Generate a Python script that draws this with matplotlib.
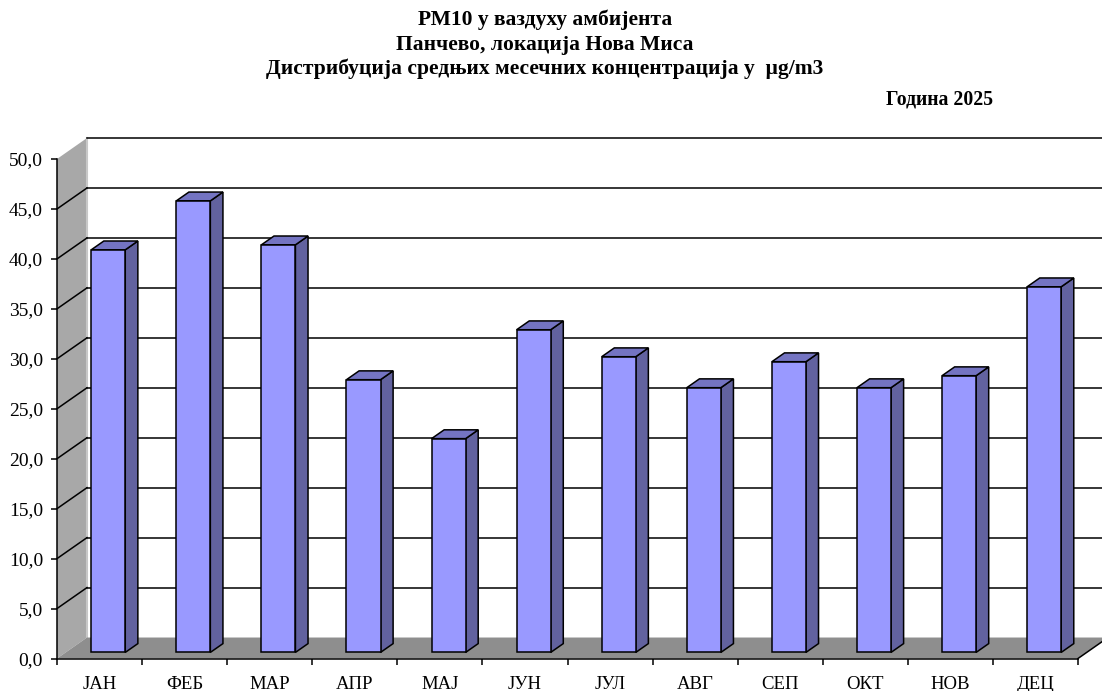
import matplotlib
matplotlib.use("Agg")
import matplotlib.pyplot as plt
from matplotlib.patches import Polygon
from matplotlib.ticker import FuncFormatter

# Средње месечне концентрације PM10, Нова Миса 2025
months = ["ЈАН", "ФЕБ", "МАР", "АПР", "МАЈ", "ЈУН",
          "ЈУЛ", "АВГ", "СЕП", "ОКТ", "НОВ", "ДЕЦ"]
pm10 = [40.3, 45.2, 40.8, 27.3, 21.4, 32.3, 29.6, 26.5, 29.1, 26.5, 27.7, 36.6]
y_ticks = [0, 5, 10, 15, 20, 25, 30, 35, 40, 45, 50]

title_lines = ["РМ10 у ваздуху амбијента",
               "Панчево, локација Нова Миса",
               "Дистрибуција средњих месечних концентрација у  µg/m3"]
year_label = "Година 2025"

# дубина 3Д приказа у јединицама оса (категорија, вредност)
DX, DY = 0.3526, 2.1
D_FRONT, D_BACK = 0.29, 0.71   # положај стубића по дубини
BAR_X0, BAR_X1 = 0.3, 0.7      # ширина стубића унутар категорије

plt.rcParams["font.family"] = ["Liberation Serif", "DejaVu Serif"]

fig = plt.figure(figsize=(11.02, 6.91), dpi=100)
ax = fig.add_axes([57 / 1102, 32.5 / 691, 1021 / 1102, 499.5 / 691])
ax.set_xlim(0, len(months))
ax.set_ylim(0, 50)
ax.patch.set_visible(False)


def pt(x, y, d):
    return (x + d * DX, y + d * DY)


def poly(pts, fc, ec="none", lw=0.0, z=1):
    p = Polygon(pts, closed=True, facecolor=fc, edgecolor=ec, linewidth=lw,
                zorder=z, clip_on=False, joinstyle="miter")
    ax.add_patch(p)


n = len(months)
top = y_ticks[-1]

# леви зид
poly([pt(0, 0, 0), pt(0, top, 0), pt(0, top, 1), pt(0, 0, 1)], "#a8a8a8", z=1)
ax.plot([DX, DX], [DY, top + DY], color="#c8c8c8", lw=1.5, zorder=1.1, clip_on=False)

# под
poly([pt(0, 0, 0), pt(n, 0, 0), pt(n, 0, 1), pt(0, 0, 1)], "#8e8e8e", z=1.2)
ax.plot(*zip(pt(n, 0, 0), pt(n, 0, 1)), color="black", lw=1.1, zorder=1.3, clip_on=False)

# линије мреже на задњем и левом зиду
for v in y_ticks[1:]:
    ax.plot(*zip(pt(0, v, 1), pt(n + 1, v, 1)), color="black", lw=1.1, zorder=1.5, clip_on=False)
    if v < top:
        ax.plot(*zip(pt(0, v, 0), pt(0, v, 1)), color="black", lw=1.1, zorder=1.5, clip_on=False)

# стубићи
for i, v in enumerate(pm10):
    x0, x1 = i + BAR_X0, i + BAR_X1
    front = [pt(x0, 0, D_FRONT), pt(x1, 0, D_FRONT), pt(x1, v, D_FRONT), pt(x0, v, D_FRONT)]
    side = [pt(x1, 0, D_FRONT), pt(x1, 0, D_BACK), pt(x1, v, D_BACK), pt(x1, v, D_FRONT)]
    lid = [pt(x0, v, D_FRONT), pt(x1, v, D_FRONT), pt(x1, v, D_BACK), pt(x0, v, D_BACK)]
    poly(side, "#62629f", "black", 1.1, z=3)
    poly(lid, "#7474c2", "black", 1.1, z=3)
    poly(front, "#9999ff", "black", 1.1, z=3.1)

# осе
for s in ["top", "right"]:
    ax.spines[s].set_visible(False)
for s in ["left", "bottom"]:
    ax.spines[s].set_linewidth(1.1)
    ax.spines[s].set_zorder(4)

ax.set_yticks(y_ticks)
ax.yaxis.set_major_formatter(FuncFormatter(lambda v, _: f"{v:.1f}".replace(".", ",")))
ax.tick_params(axis="y", direction="out", length=4, width=1.1, pad=6, labelsize=14)

ax.set_xticks(range(n + 1))
ax.set_xticklabels([])
ax.set_xticks([i + 0.5 for i in range(n)], minor=True)
ax.set_xticklabels(months, minor=True)
ax.tick_params(axis="x", which="major", direction="out", length=4, width=1.1)
ax.tick_params(axis="x", which="minor", length=0, pad=12.5, labelsize=13.5)

# наслов
for k, yy in enumerate([20, 45, 69]):
    fig.text(545 / 1102, 1 - yy / 691, title_lines[k], ha="center", va="center",
             fontsize=15.5, fontweight="bold")
fig.text(993 / 1102, 1 - 100 / 691, year_label, ha="right", va="center",
         fontsize=14.2, fontweight="bold")

fig.savefig("out.png", dpi=100)
